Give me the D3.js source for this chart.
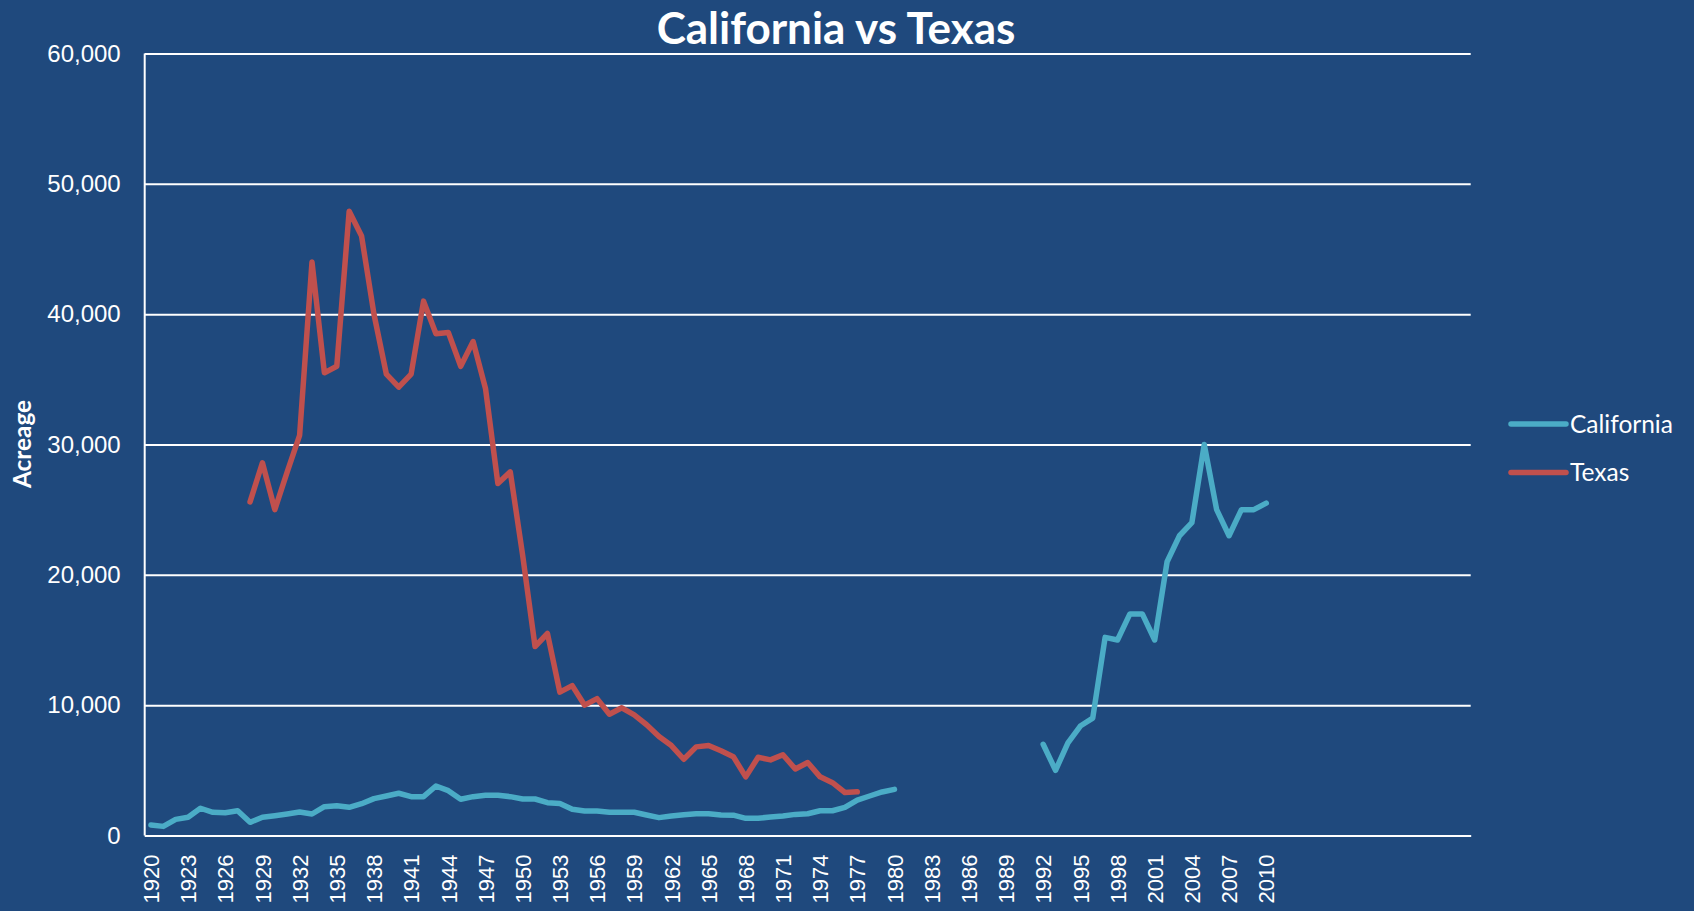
<!DOCTYPE html>
<html>
<head>
<meta charset="utf-8">
<script src="https://cdn.jsdelivr.net/npm/d3@7/dist/d3.min.js"></script>
<style>
  html, body { margin: 0; padding: 0; background: #1f497d; }
  svg { display: block; font-family: Lato, "Open Sans", sans-serif; }
  .axis text { fill: #fff; }
  .grid line { stroke: #fff; stroke-width: 2; }
</style>
</head>
<body>
<script>
// category slots: one per year, the sheet runs on with empty rows after 2010
var years = d3.range(1920, 2027);

var tickYears = [1920, 1923, 1926, 1929, 1932, 1935, 1938, 1941, 1944, 1947,
  1950, 1953, 1956, 1959, 1962, 1965, 1968, 1971, 1974, 1977,
  1980, 1983, 1986, 1989, 1992, 1995, 1998, 2001, 2004, 2007, 2010];

var yTicks = [0, 10000, 20000, 30000, 40000, 50000, 60000];

// California acreage, 1920 onwards (no data 1981-1991)
var californiaStart = 1920;
var california = [
  800, 700, 1240, 1400, 2090, 1780, 1750, 1900, 1010, 1400,
  1520, 1650, 1800, 1650, 2210, 2290, 2160, 2440, 2830, 3030,
  3240, 2980, 2980, 3800, 3440, 2780, 2980, 3080, 3080, 2980,
  2800, 2800, 2520, 2460, 2010, 1880, 1880, 1780, 1780, 1780,
  1570, 1370, 1500, 1600, 1670, 1670, 1570, 1560, 1320, 1320,
  1420, 1500, 1620, 1670, 1900, 1900, 2160, 2720, 3030, 3340,
  3540,
  null, null, null, null, null, null, null, null, null, null, null,
  7000, 5000, 7100, 8400, 9000, 15200, 15000, 17000, 17000, 15000,
  21000, 23000, 24000, 30000, 25000, 23000, 25000, 25000, 25500
];

// Texas acreage, 1928 - 1977
var texasStart = 1928;
var texas = [
  25600, 28600, 25000, 27900, 30700, 44000, 35500, 36000, 47900, 46000,
  40000, 35400, 34400, 35400, 41000, 38500, 38600, 36000, 37900, 34300,
  27000, 27900, 21500, 14500, 15500, 11000, 11500, 10000, 10500, 9300,
  9800, 9250, 8500, 7600, 6900, 5850, 6800, 6900, 6500, 6050,
  4500, 6000, 5800, 6200, 5100, 5600, 4500, 4050, 3300, 3350
];

var seriesNames = ["California", "Texas"];
var seriesColors = ["#4bacc6", "#c0504d"];

var W = 1694, H = 911;
var margin = {left: 144.7, right: 223.3, top: 53.5, bottom: 75.5};
var width = W - margin.left - margin.right;
var height = H - margin.top - margin.bottom;

var svg = d3.select("body").append("svg").attr("width", W).attr("height", H);
svg.append("rect").attr("width", W).attr("height", H).attr("fill", "#1f497d");

var x = d3.scalePoint().domain(years).range([0, width]).padding(0.5);
var y = d3.scaleLinear().domain([0, 60000]).range([height, 0]);

var chartGroup = svg.append("g")
    .attr("transform", "translate(" + margin.left + "," + margin.top + ")");

// gridlines + y labels
var yAxis = d3.axisLeft(y).tickValues(yTicks).tickSize(-width).tickPadding(24)
    .tickFormat(d3.format(","));
var yg = chartGroup.append("g").attr("class", "axis grid").call(yAxis);
yg.select(".domain").remove();
yg.selectAll("text").style("font-size", "24px");

// left axis line
chartGroup.append("line")
    .attr("x1", 0).attr("x2", 0).attr("y1", 0).attr("y2", height)
    .attr("stroke", "#fff").attr("stroke-width", 2);

// x labels
var xAxis = d3.axisBottom(x).tickValues(tickYears).tickSize(0).tickPadding(0);
var xg = chartGroup.append("g").attr("class", "axis")
    .attr("transform", "translate(0," + height + ")").call(xAxis);
xg.select(".domain").attr("stroke", "#fff").attr("stroke-width", 2);
xg.selectAll("text")
    .style("font-size", "22px")
    .attr("text-anchor", "end")
    .attr("transform", "rotate(-90)")
    .attr("x", -19).attr("y", 0).attr("dy", "0.35em");

function toPoints(start, vals) {
  return vals.map(function(v, i) { return {year: start + i, v: v}; });
}
var seriesData = [toPoints(californiaStart, california), toPoints(texasStart, texas)];

var line = d3.line()
    .defined(function(d) { return d.v != null; })
    .x(function(d) { return x(d.year); })
    .y(function(d) { return y(d.v); });

seriesData.forEach(function(s, i) {
  chartGroup.append("path")
      .attr("d", line(s))
      .attr("fill", "none")
      .attr("stroke", seriesColors[i])
      .attr("stroke-width", 5.5)
      .attr("stroke-linejoin", "round")
      .attr("stroke-linecap", "round");
});

// title
svg.append("text")
    .attr("x", 836).attr("y", 44)
    .attr("text-anchor", "middle")
    .attr("fill", "#fff")
    .style("font-size", "44px").style("font-weight", "bold")
    .text("California vs Texas");

// y title
svg.append("text")
    .attr("transform", "translate(22,444) rotate(-90)")
    .attr("text-anchor", "middle").attr("dy", "0.35em")
    .attr("fill", "#fff")
    .style("font-size", "24.4px").style("font-weight", "bold")
    .text("Acreage");

// legend
var legend = svg.append("g").attr("transform", "translate(1511,424)");
seriesNames.forEach(function(name, i) {
  var g = legend.append("g").attr("transform", "translate(0," + (i * 48.4) + ")");
  g.append("line").attr("x1", 0).attr("x2", 55)
      .attr("stroke", seriesColors[i]).attr("stroke-width", 5.5)
      .attr("stroke-linecap", "round");
  g.append("text").attr("x", 59).attr("dy", "0.35em")
      .attr("fill", "#fff").style("font-size", "24.5px")
      .text(name);
});
</script>
</body>
</html>
